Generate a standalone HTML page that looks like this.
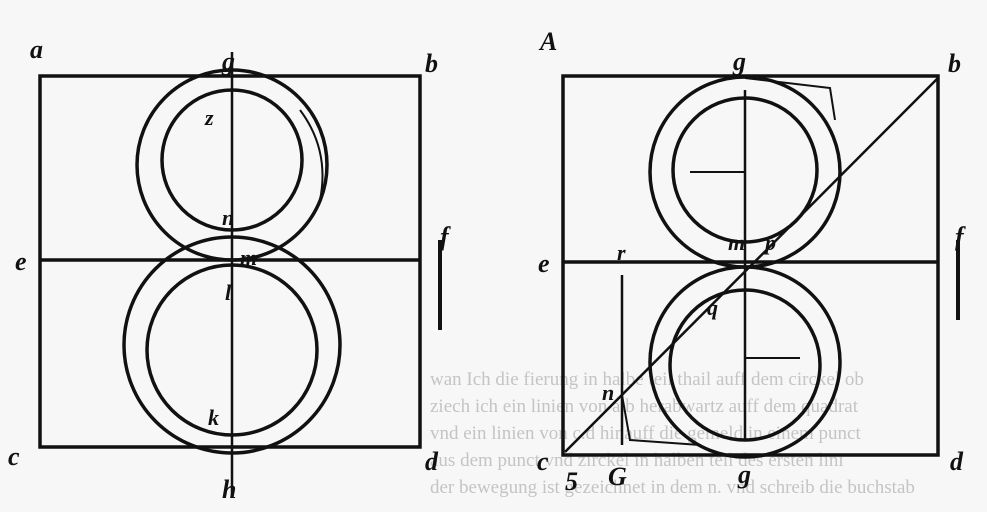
<!DOCTYPE html>
<html><head><meta charset="utf-8"><style>
html,body{margin:0;padding:0;background:#f7f7f7;}
svg{display:block}
text{font-family:"Liberation Serif",serif;font-weight:bold;fill:#111;font-style:italic}
.bg{font-style:normal;font-weight:normal;fill:#c4c4c4;font-size:19px}
</style></head><body>
<svg width="987" height="512" viewBox="0 0 987 512">
<rect width="987" height="512" fill="#f7f7f7"/>
<g>
<text class="bg" x="430" y="385">wan Ich die fierung in halbe teil thail auff dem circkel ob</text>
<text class="bg" x="430" y="412">ziech ich ein linien von a.b herabwartz auff dem quadrat</text>
<text class="bg" x="430" y="439">vnd ein linien von c.d hinauff die gemeld in einem punct</text>
<text class="bg" x="430" y="466">aus dem punct vnd zirckel in halben teil des ersten lini</text>
<text class="bg" x="430" y="493">der bewegung ist gezeichnet in dem n. vnd schreib die buchstab</text>
</g>
<g fill="none" stroke="#111" stroke-width="3.5">
<rect x="40" y="76" width="380" height="371"/>
<line x1="40" y1="260" x2="420" y2="260"/>
<line x1="232" y1="52" x2="232" y2="495" stroke-width="2.5"/>
<circle cx="232" cy="165" r="95"/>
<circle cx="232" cy="160" r="70"/>
<circle cx="232" cy="345" r="108"/>
<circle cx="232" cy="350" r="85"/>
<path d="M300 110 Q330 150 320 200" stroke-width="2"/>
<line x1="440" y1="240" x2="440" y2="330" stroke-width="4"/>

<rect x="563" y="76" width="375" height="379"/>
<line x1="563" y1="262" x2="938" y2="262"/>
<line x1="565" y1="452" x2="938" y2="78" stroke-width="2.5"/>
<line x1="745" y1="90" x2="745" y2="440" stroke-width="2.5"/>
<line x1="622" y1="275" x2="622" y2="445" stroke-width="2.5"/>
<circle cx="745" cy="172" r="95"/>
<circle cx="745" cy="170" r="72"/>
<circle cx="745" cy="362" r="95"/>
<circle cx="745" cy="365" r="75"/>
<line x1="690" y1="172" x2="745" y2="172" stroke-width="2"/>
<line x1="745" y1="358" x2="800" y2="358" stroke-width="2"/>
<path d="M745 78 L830 88 L835 120" stroke-width="2"/>
<path d="M622 395 L630 440 L700 445" stroke-width="2"/>
<line x1="958" y1="240" x2="958" y2="320" stroke-width="4"/>
</g>
<g font-size="26">
<text x="30" y="58">a</text><text x="222" y="70">g</text><text x="425" y="72">b</text>
<text x="15" y="270">e</text><text x="440" y="245">f</text>
<text x="8" y="465">c</text><text x="425" y="470">d</text><text x="222" y="498">h</text>
<text x="205" y="125" font-size="22">z</text><text x="222" y="225" font-size="22">n</text>
<text x="240" y="265" font-size="22">m</text><text x="225" y="300" font-size="22">l</text>
<text x="208" y="425" font-size="22">k</text>
<text x="540" y="50">A</text><text x="733" y="70">g</text><text x="948" y="72">b</text>
<text x="538" y="272">e</text><text x="955" y="245">f</text>
<text x="537" y="470">c</text><text x="565" y="490">5</text><text x="608" y="485">G</text>
<text x="738" y="483">g</text><text x="950" y="470">d</text>
<text x="617" y="260" font-size="22">r</text><text x="728" y="250" font-size="22">m</text>
<text x="765" y="250" font-size="22">p</text><text x="707" y="315" font-size="22">q</text>
<text x="602" y="400" font-size="22">n</text>
</g>
</svg>
</body></html>
